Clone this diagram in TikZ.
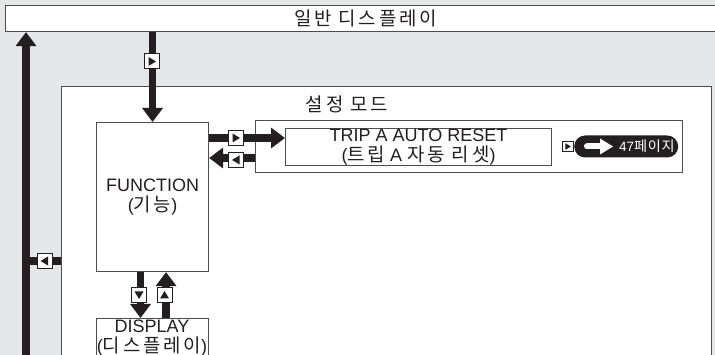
\documentclass[tikz,border=0pt]{standalone}
\usepackage{fontspec}
\setmainfont{Liberation Sans}
\newfontfamily\kr[Scale=1.05, LetterSpace=15]{Noto Sans CJK KR}
\usetikzlibrary{arrows.meta}
\definecolor{panelgray}{HTML}{E6E7E8}
\definecolor{ink}{HTML}{231F20}

\tikzset{
  frame/.style={draw=ink!80, line width=1.1pt, fill=white, anchor=north west, inner sep=0pt},
  bar/.style={draw=ink, line width=7.5pt},
  bararrow/.style={bar, -{Triangle[width=20pt,length=14pt]}},
  keybtn/.pic={
    \draw[fill=white, draw=ink, line width=1pt] (-7.5,-7.5) rectangle (7.5,7.5);
    \fill[ink] (-3.5,-4.5) -- (4,0) -- (-3.5,4.5) -- cycle;
  },
}

\begin{document}
\begin{tikzpicture}[x=1pt, y=-1pt, font=\fontsize{18}{18}\selectfont, text=ink]
\useasboundingbox (0,0) rectangle (715,355);
\fill[panelgray] (0,0) rectangle (715,355);

% boxes
\node[frame, minimum width=720pt, minimum height=26pt] (general) at (5,5) {{\kr 일반 디스플레이}};
\node[frame, minimum width=650pt, minimum height=300pt] (setmode) at (61,86) {};
\node (modelabel) at (347,104) {\kr 설정 모드};
\node[frame, minimum width=112pt, minimum height=149pt, align=center] (func) at (96,122)
  {FUNCTION\\[2pt]({\kr 기능})};
\node[frame, minimum width=112pt, minimum height=60pt] (disp) at (96,318) {};
\node[align=center] (displabel) at (152,338) {DISPLAY\\[2pt]({\kr 디스플레이})};
\node[frame, minimum width=427pt, minimum height=52pt] (trippanel) at (255,120) {};
\node[frame, minimum width=266pt, minimum height=37pt, align=center] (trip) at (285,128)
  {TRIP A AUTO RESET\\[2pt]({\kr 트립} A {\kr 자동 리셋})};

% jump to page 47
\node[fill=ink, rounded corners=11pt, minimum width=104pt, minimum height=22pt,
  anchor=west, inner sep=0pt] (pagelink) at (574,146.5) {};
\draw[white, line width=6pt, line cap=round] (587,146.5) -- (602,146.5);
\fill[white] (600,138.5) -- (613,146.5) -- (600,154.5) -- cycle;
\node[white, anchor=west, inner sep=0pt] (pagetext) at (619,146.5)
  {\fontsize{13.5}{13}\selectfont 47{\kr\addfontfeature{LetterSpace=5} 페이지}};

% connectors
\coordinate (lbottom) at (26,365);
\coordinate (ret) at (61,261);
\coordinate (fwd) at (0,138);
\coordinate (back) at (0,158);
\draw[bararrow] (lbottom) -- (lbottom |- general.south);
\draw[bar] (ret) -- (ret -| lbottom);
\draw[bararrow] (general.south -| func.north) -- (func.north);
\draw[bararrow] (func.east |- fwd) -- (trip.west |- fwd);
\draw[bararrow] (trippanel.west |- back) -- (func.east |- back);
\draw[bararrow] ([xshift=-12pt]func.south) -- ([xshift=-12pt]func.south |- disp.north);
\draw[bararrow] ([xshift=13.5pt]disp.north) -- ([xshift=13.5pt]disp.north |- func.south);

% key buttons
\foreach \px/\py/\rot in {152/61.5/0, 44.5/261/180, 236/138/0, 236/160/180, 139/295/-90, 164.5/295/90} {
  \pic[rotate=\rot] at (\px,\py) {keybtn};
}
\pic[scale=0.72] at (568,146.5) {keybtn};
\end{tikzpicture}
\end{document}
